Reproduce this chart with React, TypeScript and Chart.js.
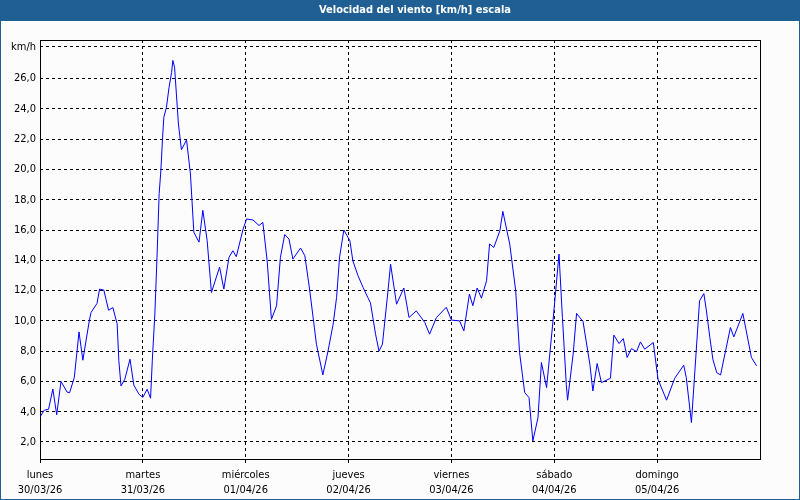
import React, { useEffect, useRef } from "react";
import { Chart, registerables } from "chart.js";

Chart.register(...registerables);

const TITLE = "Velocidad del viento [km/h] escala";
const UNIT_LABEL = "km/h";

const dayNames = ["lunes", "martes", "miércoles", "jueves", "viernes", "sábado", "domingo"];
const dayDates = ["30/03/26", "31/03/26", "01/04/26", "02/04/26", "03/04/26", "04/04/26", "05/04/26"];
const dayStartHours = [0, 24, 48, 72, 96, 120, 144];

const yTickValues = [2, 4, 6, 8, 10, 12, 14, 16, 18, 20, 22, 24, 26];
const unitTickValue = 28.1;

const hours = [
  0, 1, 2, 3, 3.9, 4.9, 6.3, 6.9, 8, 9.1, 10, 11.5, 11.9, 13.3, 13.9, 14.9, 16, 17, 18, 18.4,
  18.9, 19.8, 21, 21.9, 23.1, 24, 25, 25.8, 26.2, 26.8, 27.3, 27.8, 28.2, 28.6, 28.9, 29.5,
  30.1, 30.7, 31, 31.4, 32.3, 33, 34.2, 35.1, 35.9, 37.1, 38, 39, 40, 41.9, 42.9, 44.1, 45,
  45.8, 47.4, 48.2, 49.7, 51.1, 52, 53, 54, 55.2, 56.1, 57.1, 58.1, 59, 60.8, 61.8, 62.9, 64.5,
  66, 67.2, 68.4, 69.2, 69.9, 70.9, 72.3, 73, 74.2, 75.4, 76.5, 77.1, 78.3, 79.1, 79.9, 81.2,
  81.8, 83.2, 84.9, 86.1, 87.8, 89.8, 90.9, 92.5, 94.8, 96, 97.9, 98.9, 100.2, 101, 102, 103,
  104.2, 104.9, 105.9, 107.3, 108, 109.6, 111, 111.9, 113.1, 114.1, 115, 116.2, 117, 118.2,
  119.7, 121.1, 121.9, 122.8, 123.1, 124.4, 125.2, 126.7, 128.3, 129, 130, 131, 133.1, 133.9,
  135.1, 136.1, 137, 138, 139.2, 140.1, 141.1, 143.1, 144.2, 146.2, 148.1, 150.2, 150.8, 152,
  153.9, 154.9, 155.5, 156.3, 157, 157.9, 158.8, 161.1, 161.9, 164, 166, 167.2,
];

const windKmh = [
  3.65, 4.1, 4.16, 5.5, 3.8, 6.0, 5.3, 5.25, 6.25, 9.27, 7.4, 10.0, 10.55, 11.15, 12.1, 12.03, 10.7, 10.88, 9.8, 7.36,
  5.7, 6.15, 7.47, 5.75, 5.15, 4.95, 5.48, 4.89, 7.36, 10.45, 14.2, 18.4, 19.9, 22.1, 23.45, 24.1,
  25.4, 26.4, 27.2, 26.75, 23.0, 21.3, 21.95, 19.7, 15.85, 15.2, 17.3, 15.3, 11.87, 13.55, 12.1, 14.2, 14.63,
  14.24, 16.07, 16.73, 16.66, 16.3, 16.5, 13.97, 10.1, 11.0, 14.2, 15.7, 15.4, 14.08, 14.81, 14.3, 12.1, 8.46,
  6.43, 8.0, 9.78, 11.54, 14.2, 16.0, 15.3, 13.97, 12.98, 12.2, 11.54, 11.2, 9.12, 8.0, 8.46, 11.99,
  13.75, 11.1, 12.17, 10.22, 10.66, 9.89, 9.12, 10.22, 10.9, 10.05, 10.0, 9.34, 11.77, 11.0, 12.17, 11.5,
  12.65, 15.08, 14.85, 15.95, 17.23, 15.08, 11.99, 7.9, 5.26, 4.93, 2.07, 3.61, 7.25, 5.59,
  10.0, 14.41, 10.22, 5.8, 4.76, 7.8, 10.49, 9.96, 7.14, 5.37, 7.18, 5.92, 6.21, 9.06,
  8.5, 8.83, 7.58, 8.17, 7.97, 8.61, 8.13, 8.57, 6.15, 4.76, 6.21, 7.07, 6.25, 3.28,
  11.33, 11.8, 10.66, 8.9, 7.47, 6.58, 6.43, 9.56, 8.94, 10.49, 7.58, 7.03,
];

const BLUE = "#1f5f94";
const BG = "#fbfcfb";
const FONT = '"DejaVu Sans Condensed", "DejaVu Sans", "Liberation Sans", sans-serif';

const framePlugin = {
  id: "frame",
  beforeDraw(chart: any) {
    const { ctx, width, height } = chart;
    ctx.save();
    ctx.fillStyle = BG;
    ctx.fillRect(0, 0, width, height);
    ctx.fillStyle = BLUE;
    ctx.fillRect(0, 0, width, 21);
    ctx.fillRect(0, 0, 1, height);
    ctx.fillRect(width - 1, 0, 1, height);
    ctx.fillRect(0, height - 1, width, 1);
    ctx.fillStyle = "#ffffff";
    ctx.font = "bold 11px " + FONT;
    ctx.textAlign = "center";
    ctx.textBaseline = "middle";
    ctx.fillText(TITLE, 415, 10.5);
    ctx.restore();
  },
  beforeDatasetsDraw(chart: any) {
    const { ctx, chartArea } = chart;
    ctx.save();
    ctx.strokeStyle = "#000";
    ctx.lineWidth = 1;
    ctx.setLineDash([]);
    const l = Math.round(chartArea.left) + 0.5;
    const t = Math.round(chartArea.top) + 0.5;
    const r = Math.round(chartArea.right) + 0.5;
    const b = Math.round(chartArea.bottom) - 0.5;
    ctx.strokeRect(l, t, r - l, b - t);
    ctx.restore();
  },
};

export default function App() {
  const canvasRef = useRef<HTMLCanvasElement | null>(null);

  useEffect(() => {
    const canvas = canvasRef.current;
    if (!canvas) return;
    const points = hours.map((h, i) => ({ x: h, y: windKmh[i] }));
    const chart = new Chart(canvas, {
      type: "line",
      data: {
        datasets: [
          {
            data: points,
            borderColor: "#0000ff",
            borderWidth: 1,
            pointRadius: 0,
            tension: 0,
            fill: false,
          },
        ],
      },
      options: {
        animation: false,
        responsive: false,
        devicePixelRatio: 1,
        events: [],
        layout: { padding: { top: 40, right: 40, left: 0, bottom: 0 } },
        plugins: {
          legend: { display: false },
          title: { display: false },
          tooltip: { enabled: false },
        },
        scales: {
          x: {
            type: "linear",
            min: 0,
            max: 168,
            afterFit: (scale: any) => {
              scale.height = 40;
            },
            afterBuildTicks: (scale: any) => {
              scale.ticks = dayStartHours.map((v) => ({ value: v }));
            },
            grid: {
              color: "#000",
              lineWidth: 1,
              tickLength: 6,
              tickColor: "#000",
              tickBorderDash: [3, 3],
            },
            border: { display: false, dash: [3, 3] },
            ticks: {
              autoSkip: false,
              maxRotation: 0,
              padding: 2,
              color: "#000",
              font: { family: FONT, size: 11, lineHeight: 1.37 },
              callback: (_v: any, i: number) => [dayNames[i], dayDates[i]],
            },
          },
          y: {
            type: "linear",
            min: 0.81,
            max: 28.55,
            afterFit: (scale: any) => {
              scale.width = 40;
            },
            afterBuildTicks: (scale: any) => {
              scale.ticks = [...yTickValues, unitTickValue].map((v) => ({ value: v }));
            },
            grid: {
              color: "#000",
              lineWidth: 1,
              drawTicks: false,
            },
            border: { display: false, dash: [3, 3] },
            ticks: {
              padding: 4,
              color: "#000",
              font: { family: FONT, size: 11 },
              callback: (v: any) =>
                v > 27 ? UNIT_LABEL : Number(v).toFixed(1).replace(".", ","),
            },
          },
        },
      },
      plugins: [framePlugin],
    });
    return () => chart.destroy();
  }, []);

  return (
    <div style={{ position: "absolute", left: 0, top: 0, width: 800, height: 500 }}>
      <canvas ref={canvasRef} width={800} height={500} style={{ display: "block" }} />
    </div>
  );
}
